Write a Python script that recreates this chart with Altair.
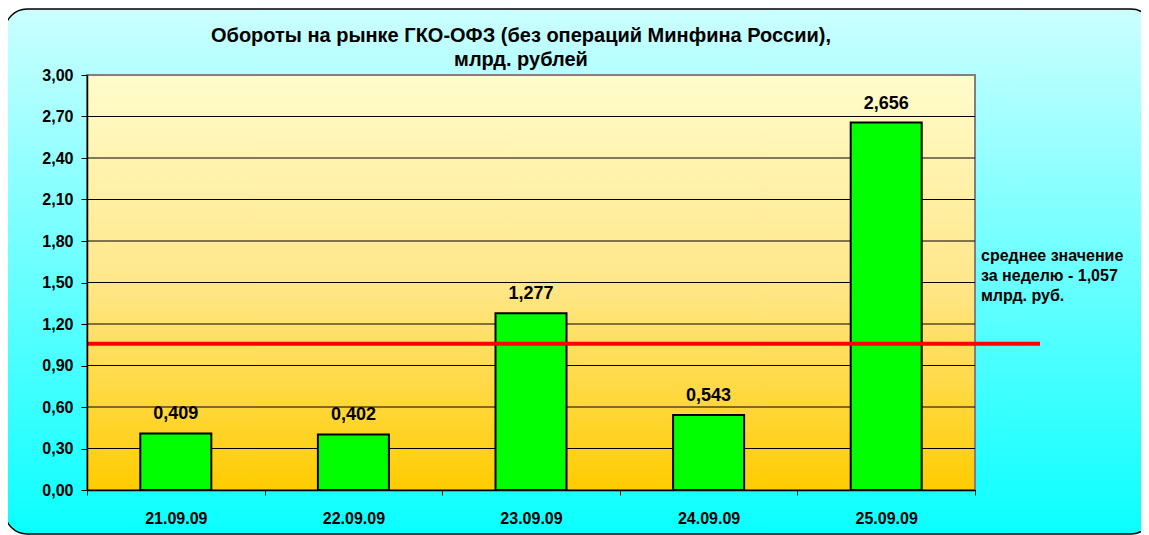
import altair as alt
import pandas as pd

# ---- data ----
dates = ["21.09.09", "22.09.09", "23.09.09", "24.09.09", "25.09.09"]
values = [0.409, 0.402, 1.277, 0.543, 2.656]
tick_values = [0.0, 0.3, 0.6, 0.9, 1.2, 1.5, 1.8, 2.1, 2.4, 2.7, 3.0]
grid_values = [0.3, 0.6, 0.9, 1.2, 1.5, 1.8, 2.1, 2.4, 2.7]
avg_value = 1.057
title_lines = ["Обороты на рынке ГКО-ОФЗ (без операций Минфина России),", "млрд. рублей"]
note_lines = ["среднее значение", "за неделю - 1,057", "млрд. руб."]

FONT = "Liberation Sans"
W, H = 888, 415

bars_df = pd.DataFrame({
    "date": dates,
    "value": values,
    "label": [f"{v:.3f}".replace(".", ",") for v in values],
})
grid_df = pd.DataFrame({"value": grid_values})
avg_df = pd.DataFrame({"value": [avg_value]})
one = pd.DataFrame({"a": [0]})

yscale = alt.Scale(domain=[0, 3], nice=False, zero=True)
xscale = alt.Scale(domain=dates, paddingInner=0, paddingOuter=0)

yaxis = alt.Axis(
    values=tick_values, title=None, grid=False,
    labelExpr="replace(format(datum.value, '.2f'), '.', ',')",
    labelFont=FONT, labelFontSize=16, labelFontWeight="bold", labelColor="black",
    domainColor="black", domainWidth=1.5, tickColor="black", tickSize=6,
    labelPadding=8, zindex=1,
)
xaxis = alt.Axis(
    title=None, labelAngle=0, tickBand="extent",
    labelFont=FONT, labelFontSize=16, labelFontWeight="bold", labelColor="black",
    domainColor="black", domainWidth=1.5, tickColor="black", tickSize=5,
    labelPadding=15, zindex=1,
)

Y = alt.Y("value:Q", scale=yscale, axis=yaxis)
X = alt.X("date:N", scale=xscale, axis=xaxis, sort=dates)

outer_grad = alt.Gradient(
    gradient="linear", x1=0, x2=0, y1=0, y2=1,
    stops=[alt.GradientStop(color="#CCFFFF", offset=0),
           alt.GradientStop(color="#0AFFFF", offset=1)],
)
plot_grad = alt.Gradient(
    gradient="linear", x1=0, x2=0, y1=0, y2=1,
    stops=[alt.GradientStop(color="#FFFCCC", offset=0),
           alt.GradientStop(color="#FFE78A", offset=0.5),
           alt.GradientStop(color="#FFCC00", offset=1)],
)

outer = alt.Chart(one).mark_rect(
    fill=outer_grad, stroke="black", strokeWidth=1.5, cornerRadius=22
).encode(x=alt.value(-82), x2=alt.value(1066), y=alt.value(-66), y2=alt.value(459))

plot_bg = alt.Chart(one).mark_rect(
    fill=plot_grad, stroke="#808080", strokeWidth=2
).encode(x=alt.value(0), x2=alt.value(W), y=alt.value(0), y2=alt.value(H))

grid = alt.Chart(grid_df).mark_rule(color="black", strokeWidth=1).encode(
    y=Y, x=alt.value(0), x2=alt.value(W)
)

bars = alt.Chart(bars_df).mark_bar(
    size=71, color="#00FF00", stroke="black", strokeWidth=2
).encode(x=X, y=Y)

labels = alt.Chart(bars_df).mark_text(
    baseline="bottom", dy=-10, font=FONT, fontSize=18, fontWeight="bold", color="black"
).encode(x=X, y=Y, text="label:N")

avg_line = alt.Chart(avg_df).mark_rule(color="#FF0000", strokeWidth=4).encode(
    y=Y, x=alt.value(0), x2=alt.value(953)
)

note = alt.Chart(one).mark_text(
    align="left", baseline="middle", lineHeight=20, font=FONT, fontSize=16,
    fontWeight="bold", color="black", text=note_lines
).encode(x=alt.value(894), y=alt.value(181))

title = alt.Chart(one).mark_text(
    align="center", baseline="middle", lineHeight=24, font=FONT, fontSize=20,
    fontWeight="bold", color="black", text=title_lines
).encode(x=alt.value(434), y=alt.value(-39))

chart = alt.layer(outer, plot_bg, grid, bars, labels, avg_line, note, title).properties(
    width=W, height=H,
    autosize="none",
    padding={"left": 79, "top": 67, "right": 166, "bottom": 45},
).configure_view(stroke=None).configure(background="white")

chart.save("out.html", embed_options={"renderer": "svg", "actions": False})
